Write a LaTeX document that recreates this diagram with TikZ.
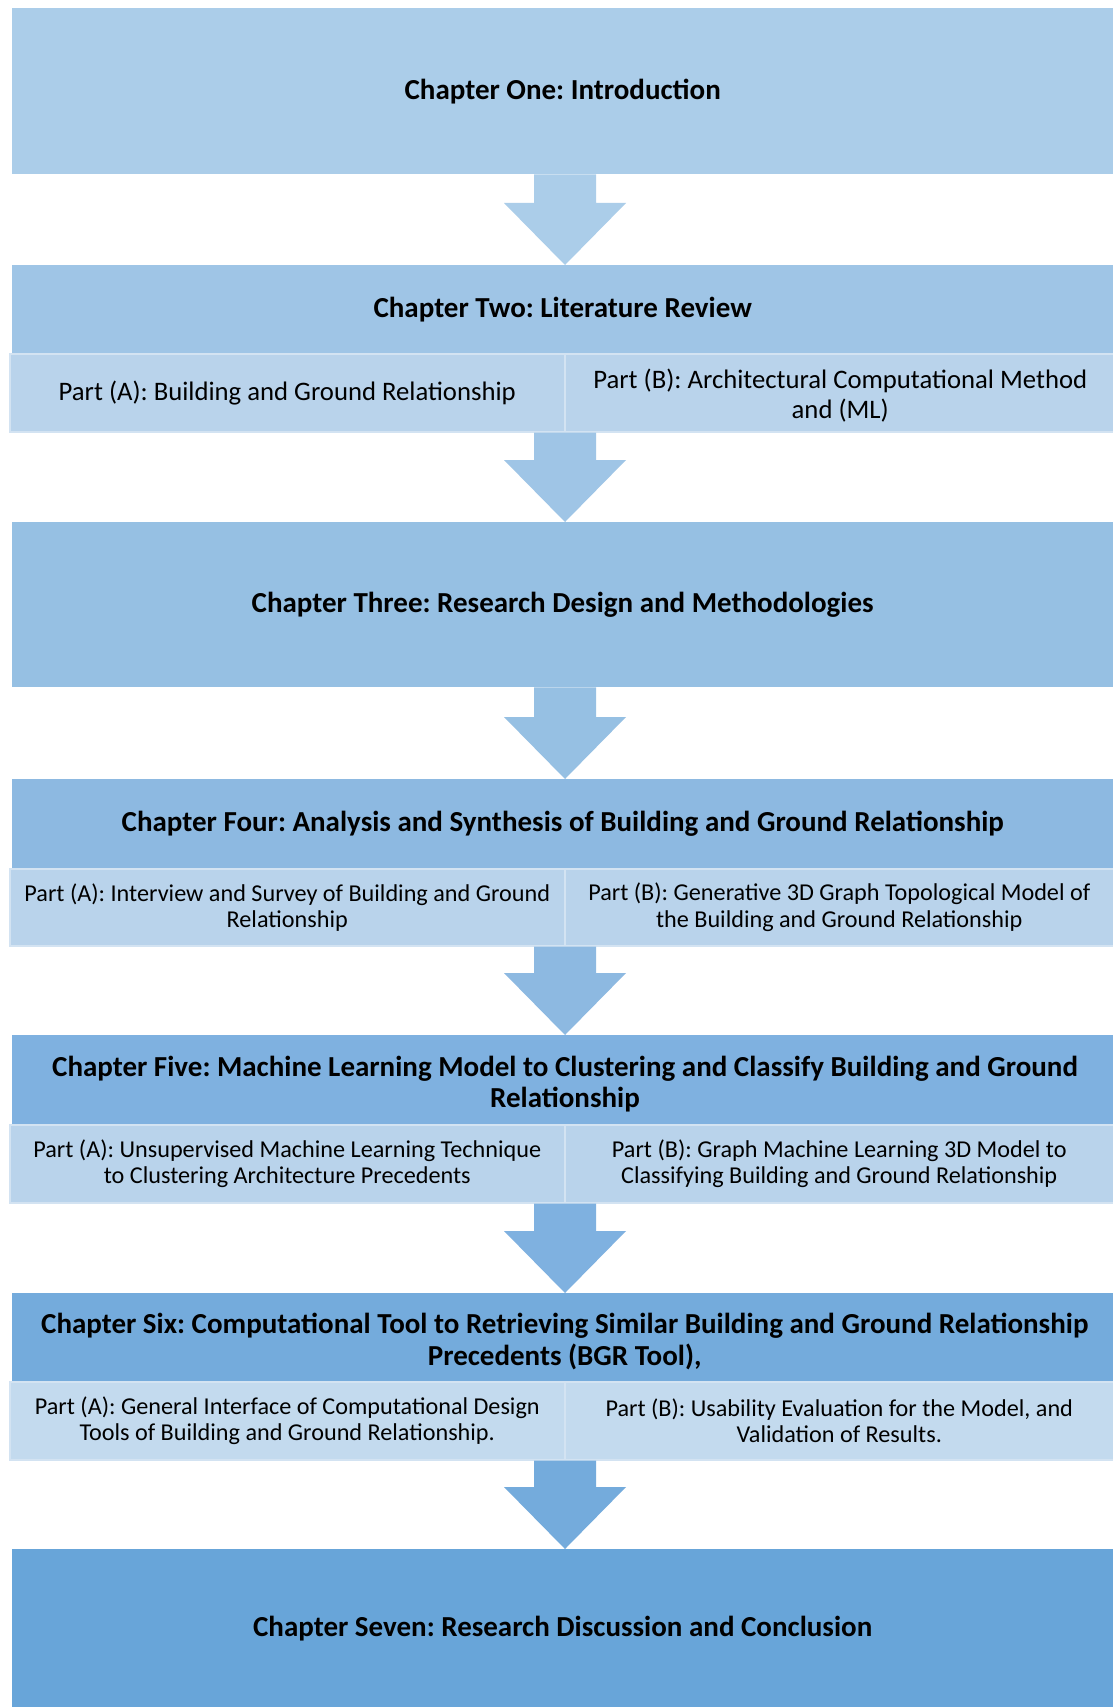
\documentclass[tikz,border=0pt]{standalone}
\usepackage{fontspec}
\setmainfont{Carlito}
\frenchspacing
\usetikzlibrary{calc}
\definecolor{cA}{HTML}{ABCDE9}
\definecolor{cB}{HTML}{9FC5E6}
\definecolor{cC}{HTML}{96C0E3}
\definecolor{cD}{HTML}{8DB9E1}
\definecolor{cE}{HTML}{7FB1E0}
\definecolor{cF}{HTML}{74ABDC}
\definecolor{cG}{HTML}{68A5D9}
\definecolor{subfill}{HTML}{B9D3EB}
\definecolor{subline}{HTML}{D3E3F2}
\tikzset{
  chapbox/.style={rectangle, inner sep=0pt, anchor=north west, align=center,
    font=\fontsize{29}{31.6}\selectfont\bfseries, text=black},
  chaptext/.style={inner sep=0pt, align=center, font=\fontsize{29}{31.6}\selectfont\bfseries, text=black},
  subcell/.style={rectangle, inner sep=0pt, anchor=north west, align=center,
    fill=subfill, draw=subline, line width=1.5pt,
    font=\fontsize{24.2}{26.2}\selectfont, text=black},
  bigsub/.style={font=\fontsize{26.7}{30.5}\selectfont},
  bigsubtext/.style={inner sep=0pt, align=center, font=\fontsize{26.7}{30.5}\selectfont, text=black},
}
\newcommand\flowarrow[3]{%
  \fill[#1] ($(#2.south -| ax)+(-31,0)$) -- ($(#3.north -| ax)+(-31,-62)$)
    -- ($(#3.north -| ax)+(-61,-62)$) -- (#3.north -| ax)
    -- ($(#3.north -| ax)+(61,-62)$) -- ($(#3.north -| ax)+(31,-62)$)
    -- ($(#2.south -| ax)+(31,0)$) -- cycle;}
\begin{document}
\begin{tikzpicture}[x=1pt,y=-1pt]
\useasboundingbox[fill=white] (0,0) rectangle (1113,1707);
\coordinate (ax) at (565,0);
% Chapter 1
\node[chapbox, fill=cA, minimum width=1101pt, minimum height=166pt] (ch1) at (12,8) {Chapter One: Introduction};
% Chapter 2
\node[chapbox, fill=cB, minimum width=1101pt, minimum height=88pt] (ch2) at (12,265) {Chapter Two: Literature Review};
\node[subcell, bigsub, minimum width=555pt, minimum height=78pt] (ch2a) at (9,353) {Part (A): Building and Ground Relationship};
\node[subcell, bigsub, minimum width=549pt, minimum height=78pt] (ch2b) at (564,353) {};
\node[bigsubtext] (ch2bt) at ($(ch2b.center)+(1,3)$) {Part (B): Architectural Computational Method\\and (ML)};
% Chapter 3
\node[chapbox, fill=cC, minimum width=1101pt, minimum height=165pt] (ch3) at (12,522) {Chapter Three: Research Design and Methodologies};
% Chapter 4
\node[chapbox, fill=cD, minimum width=1101pt, minimum height=89pt] (ch4) at (12,779) {Chapter Four: Analysis and Synthesis of Building and Ground Relationship};
\node[subcell, minimum width=555pt, minimum height=77pt] (ch4a) at (9,868) {Part (A): Interview and Survey of Building and Ground\\Relationship};
\node[subcell, minimum width=549pt, minimum height=77pt] (ch4b) at (564,868) {Part (B): Generative 3D Graph Topological Model of\\the Building and Ground Relationship};
% Chapter 5
\node[chapbox, fill=cE, minimum width=1101pt, minimum height=89pt] (ch5) at (12,1035) {};
\node[chaptext] (ch5t) at (565,1084) {Chapter Five: Machine Learning Model to Clustering and Classify Building and Ground\\Relationship};
\node[subcell, minimum width=555pt, minimum height=78pt] (ch5a) at (9,1124) {Part (A): Unsupervised Machine Learning Technique\\to Clustering Architecture Precedents};
\node[subcell, minimum width=549pt, minimum height=78pt] (ch5b) at (564,1124) {Part (B): Graph Machine Learning 3D Model to\\Classifying Building and Ground Relationship};
% Chapter 6
\node[chapbox, fill=cF, minimum width=1101pt, minimum height=88pt] (ch6) at (12,1293) {};
\node[chaptext] (ch6t) at ($(ch6.center)+(2,4)$) {Chapter Six: Computational Tool to Retrieving Similar Building and Ground Relationship\\Precedents (BGR Tool),};
\node[subcell, minimum width=555pt, minimum height=78pt, fill=subfill!85!white] (ch6a) at (9,1381) {Part (A): General Interface of Computational Design\\Tools of Building and Ground Relationship.};
\node[subcell, minimum width=549pt, minimum height=78pt, fill=subfill!85!white] (ch6b) at (564,1381) {Part (B): Usability Evaluation for the Model, and\\Validation of Results.};
% Chapter 7
\node[chapbox, fill=cG, minimum width=1101pt, minimum height=158pt] (ch7) at (12,1549) {Chapter Seven: Research Discussion and Conclusion};
% arrows
\flowarrow{cA}{ch1}{ch2}
\flowarrow{cB}{ch2a}{ch3}
\flowarrow{cC}{ch3}{ch4}
\flowarrow{cD}{ch4a}{ch5}
\flowarrow{cE}{ch5a}{ch6}
\flowarrow{cF}{ch6a}{ch7}
\end{tikzpicture}
\end{document}
